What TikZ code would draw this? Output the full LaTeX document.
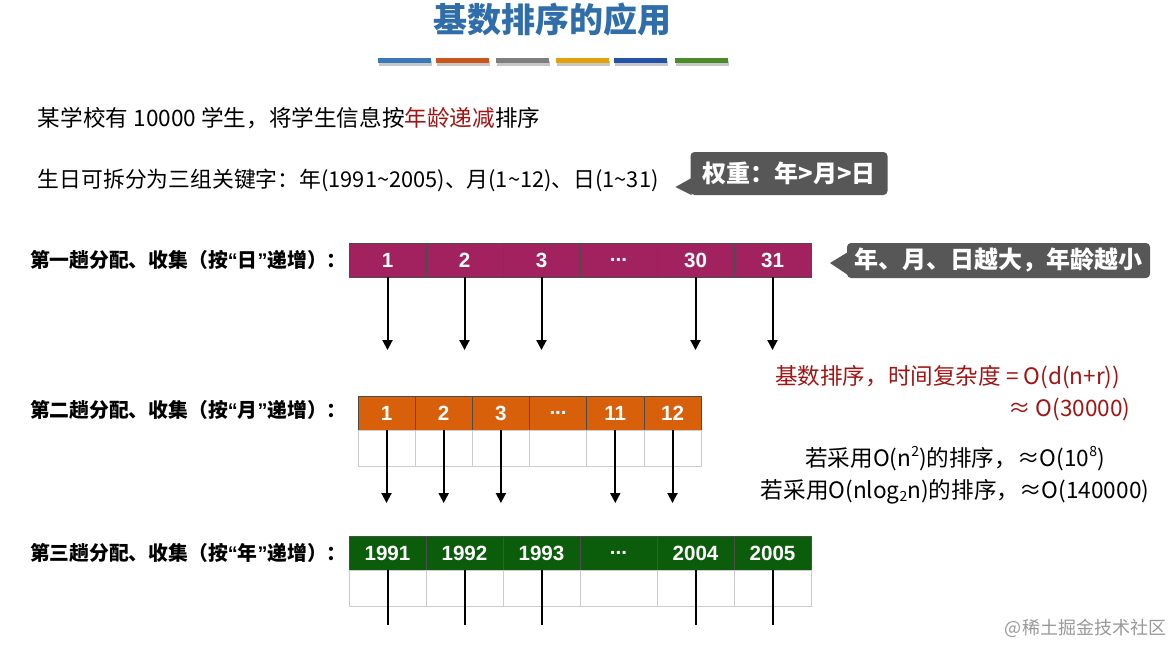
\documentclass[tikz,border=0pt]{standalone}
\usepackage{fontspec}
\setmainfont{Noto Sans CJK SC}
\newfontfamily\lat{Liberation Sans}
\usepackage{xcolor}
\usetikzlibrary{positioning,arrows.meta}
\definecolor{titleblue}{HTML}{2F6EAA}
\definecolor{keyred}{HTML}{A31515}
\definecolor{callgray}{HTML}{575757}
\definecolor{dayfill}{HTML}{A2215F}
\definecolor{monfill}{HTML}{D8600B}
\definecolor{yearfill}{HTML}{0B5D0B}
\definecolor{barblue}{HTML}{3A78B8}
\definecolor{barorange}{HTML}{C9561A}
\definecolor{bargray}{HTML}{7F7F7F}
\definecolor{baryellow}{HTML}{E3A10A}
\definecolor{bardark}{HTML}{2452A4}
\definecolor{bargreen}{HTML}{4A8C2A}
\newcommand{\supnum}[1]{\raisebox{0.8ex}{\fontsize{7}{7}\selectfont #1}}
\newcommand{\subnum}[1]{\raisebox{-0.25ex}{\fontsize{7}{7}\selectfont #1}}
\newcommand{\tld}{\char"7E\relax}
\newcommand{\qt}[1]{{\lat “}#1{\lat ”}}

\begin{document}
\begin{tikzpicture}[x=0.5pt, y=-0.5pt,
    every node/.style={inner sep=0pt, outer sep=0pt},
    body/.style={font=\fontsize{11.3}{13}\selectfont, anchor=west},
    rowlbl/.style={font=\fontsize{9.9}{11}\selectfont\bfseries, anchor=west},
    cell/.style={rectangle, draw=black!70, line width=0.4pt, text=white,
                 font=\lat\fontsize{10.3}{12}\selectfont\bfseries, minimum height=17pt},
    dcell/.style={cell, fill=dayfill, minimum width=38.5pt},
    mcell/.style={cell, fill=monfill, minimum width=28.6pt},
    ycell/.style={cell, fill=yearfill, minimum width=38.5pt},
    ecell/.style={rectangle, draw=black!20, line width=0.4pt, minimum height=18pt},
    callout/.style={rectangle, fill=callgray, rounded corners=2pt, text=white,
                    font=\fontsize{12}{14}\selectfont\bfseries},
    flow/.style={-{Triangle[length=5pt, width=5pt]}, line width=1pt},
    drop/.style={line width=1pt},
  ]
    \fill[white] (0,0) rectangle (1173,645);
    \useasboundingbox (0,0) rectangle (1173,645);

    % title and colour bars
    \node[text=titleblue, font=\fontsize{17}{20}\selectfont\bfseries] (title) at (552,20) {基数排序的应用};
    \foreach \c/\x in {barblue/378, barorange/436, bargray/496, baryellow/556, bardark/614, bargreen/675} {
      \fill[black!22] (\x+1,61) rectangle ++(53,5);
      \fill[\c] (\x,58) rectangle ++(53,5);
    }

    % problem statement
    \node[body] (intro) at (38,118) {某学校有 10000 学生，将学生信息按\textcolor{keyred}{年龄递减}排序};
    \node[body, font=\fontsize{10.9}{13}\selectfont] (keys) at (38,180)
      {生日可拆分为三组关键字：年(1991\tld 2005)、月(1\tld 12)、日(1\tld 31)};

    \node[callout, minimum width=98.5pt, minimum height=21.5pt] (weight) at (789,173.5) {权重：年>月>日};
    \fill[callgray] ([xshift=0.5pt]weight.south west) -- ++(-16,-8) -- ++(16,-9) -- cycle;

    % pass 1: day
    \node[rowlbl] (lbl1) at (30,260) {第一趟分配、收集（按\qt{日}递增）：};
    \node[dcell]                    (d1) at (387.5,260) {1};
    \node[dcell, right=0pt of d1]   (d2) {2};
    \node[dcell, right=0pt of d2]   (d3) {3};
    \node[dcell, right=0pt of d3]   (d4) {...};
    \node[dcell, right=0pt of d4]   (d5) {30};
    \node[dcell, right=0pt of d5]   (d6) {31};

    \node[callout, minimum width=151.5pt, minimum height=17.5pt] (age) at (998.5,260.5) {年、月、日越大，年龄越小};
    \fill[callgray] ([xshift=0.5pt, yshift=1.5pt]age.south west) -- ++(-18,-12) -- ++(18,-11) -- cycle;

    \coordinate (lvA) at (0,350);
    \foreach \n in {1,2,3,5,6} {
      \draw[flow] (d\n.south) -- (d\n.south |- lvA);
    }

    % complexity
    \node[body, text=keyred] (cplx) at (775,377) {基数排序，时间复杂度 = O(d(n+r))};
    \node[body, text=keyred] (cplxv) at (1008,409) {≈ O(30000)};
    \node[body, anchor=center, align=center] (cmp) at (955,475)
      {若采用O(n\supnum{2})的排序，≈O(10\supnum{8})\\[3pt]若采用O(nlog\subnum{2}n)的排序，≈O(140000)};

    % pass 2: month
    \node[rowlbl] (lbl2) at (30,410) {第二趟分配、收集（按\qt{月}递增）：};
    \node[mcell]                    (m1) at (386.5,413) {1};
    \node[mcell, right=0pt of m1]   (m2) {2};
    \node[mcell, right=0pt of m2]   (m3) {3};
    \node[mcell, right=0pt of m3]   (m4) {...};
    \node[mcell, right=0pt of m4]   (m5) {11};
    \node[mcell, right=0pt of m5]   (m6) {12};
    \foreach \n in {1,...,6} {
      \node[ecell, minimum width=28.6pt, below=0pt of m\n] (me\n) {};
    }
    \coordinate (lvB) at (0,503);
    \foreach \n in {1,2,3,5,6} {
      \draw[flow] (m\n.south) -- (m\n.south |- lvB);
    }

    % pass 3: year
    \node[rowlbl] (lbl3) at (30,553) {第三趟分配、收集（按\qt{年}递增）：};
    \node[ycell]                    (y1) at (387.5,553) {1991};
    \node[ycell, right=0pt of y1]   (y2) {1992};
    \node[ycell, right=0pt of y2]   (y3) {1993};
    \node[ycell, right=0pt of y3]   (y4) {...};
    \node[ycell, right=0pt of y4]   (y5) {2004};
    \node[ycell, right=0pt of y5]   (y6) {2005};
    \foreach \n in {1,...,6} {
      \node[ecell, minimum width=38.5pt, below=0pt of y\n] (ye\n) {};
    }
    \coordinate (lvC) at (0,625);
    \foreach \n in {1,2,3,5,6} {
      \draw[drop] (y\n.south) -- (y\n.south |- lvC);
    }

    \node[text=black!40, font=\fontsize{9}{10}\selectfont, anchor=east] (mark) at (1166,628) {@稀土掘金技术社区};
\end{tikzpicture}
\end{document}
